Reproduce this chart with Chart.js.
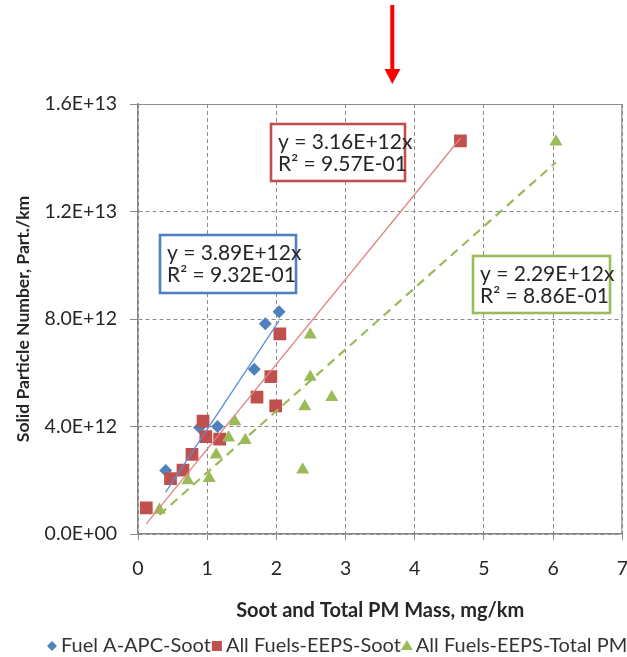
<!DOCTYPE html>
<html>
<head>
<meta charset="utf-8">
<script src="https://cdn.jsdelivr.net/npm/chart.js@4.4.0/dist/chart.umd.min.js"></script>
<style>
html,body{margin:0;padding:0;background:#fff;overflow:hidden}
#wrap{width:627px;height:657px;overflow:hidden;position:relative;background:#fff}
canvas{display:block}
</style>
</head>
<body>
<div id="wrap"><canvas id="c" width="645" height="657"></canvas></div>
<script>
// ---- data ----
const seriesNames = ['Fuel A-APC-Soot', 'All Fuels-EEPS-Soot', 'All Fuels-EEPS-Total PM'];

const blueX = [0.40, 0.89, 1.15, 1.68, 1.84, 2.04];
const blueY = [2.36e12, 3.96e12, 4.00e12, 6.13e12, 7.82e12, 8.27e12];

const redX = [0.12, 0.47, 0.65, 0.78, 0.94, 0.98, 1.18, 1.72, 1.92, 1.99, 2.05, 4.66];
const redY = [0.97e12, 2.06e12, 2.38e12, 2.96e12, 4.20e12, 3.62e12, 3.53e12, 5.09e12, 5.86e12, 4.77e12, 7.45e12, 14.63e12];

const greenX = [0.31, 0.72, 1.03, 1.13, 1.31, 1.40, 1.55, 2.38, 2.41, 2.49, 2.49, 2.80, 6.04];
const greenY = [0.89e12, 1.99e12, 2.07e12, 2.95e12, 3.58e12, 4.19e12, 3.49e12, 2.39e12, 4.74e12, 5.84e12, 7.41e12, 5.09e12, 14.60e12];

// linear trendlines through the origin, slopes as printed in the boxes
const trendSlopes = [3.89e12, 3.16e12, 2.29e12];
const trendTexts = [
  ['y = 3.89E+12x', 'R\u00B2 = 9.32E-01'],
  ['y = 3.16E+12x', 'R\u00B2 = 9.57E-01'],
  ['y = 2.29E+12x', 'R\u00B2 = 8.86E-01']
];

const xTicks = [0, 1, 2, 3, 4, 5, 6, 7];
const yTicks = [0, 4e12, 8e12, 1.2e13, 1.6e13];

const xTitle = 'Soot and Total PM Mass, mg/km';
const yTitle = 'Solid Particle Number, Part./km';

// ---- styling ----
const COLORS = ['#4f81bd', '#c0504d', '#9bbb59'];
const TREND_COLORS = ['#5b8ed0', '#e08482', '#9bbb59'];
const FONT = 'Lato, "Open Sans", sans-serif';
const TEXT = '#262626';
const GRID = '#8c8c8c';

function pts(xs, ys) { return xs.map((x, i) => ({x: x, y: ys[i]})); }
function trend(xs, slope) {
  const lo = Math.min(...xs), hi = Math.max(...xs);
  return [{x: lo, y: slope * lo}, {x: hi, y: slope * hi}];
}
function sci(v) {
  if (v === 0) return '0.0E+00';
  const e = Math.floor(Math.log10(v) + 1e-9);
  const m = v / Math.pow(10, e);
  return m.toFixed(1) + 'E+' + String(e).padStart(2, '0');
}

const allX = [blueX, redX, greenX];

const deco = {
  id: 'deco',
  beforeDatasetsDraw(chart) {
    const {ctx, chartArea: a} = chart;
    ctx.save();
    ctx.strokeStyle = GRID;
    ctx.lineWidth = 1.2;
    ctx.beginPath();
    ctx.moveTo(a.left, a.top + 0.5);
    ctx.lineTo(a.right - 0.5, a.top + 0.5);
    ctx.lineTo(a.right - 0.5, a.bottom);
    ctx.stroke();
    ctx.restore();
  },
  afterDraw(chart) {
    const ctx = chart.ctx;
    ctx.save();
    // equation boxes
    const boxes = [
      {x: 160, y: 235, w: 136, h: 58},
      {x: 271, y: 124, w: 134, h: 57},
      {x: 473, y: 256, w: 137, h: 57}
    ];
    ctx.font = '21px ' + FONT;
    ctx.textBaseline = 'middle';
    ctx.textAlign = 'left';
    boxes.forEach((b, i) => {
      ctx.fillStyle = '#fff';
      ctx.fillRect(b.x, b.y, b.w, b.h);
      ctx.lineWidth = 2.6;
      ctx.strokeStyle = COLORS[i];
      ctx.strokeRect(b.x, b.y, b.w, b.h);
      ctx.fillStyle = TEXT;
      ctx.fillText(trendTexts[i][0], b.x + 7, b.y + 18);
      ctx.fillText(trendTexts[i][1], b.x + 7, b.y + 40);
    });
    // legend
    ctx.font = '20px ' + FONT;
    let lx = 47;
    const ly = 646;
    seriesNames.forEach((name, i) => {
      ctx.fillStyle = COLORS[i];
      ctx.beginPath();
      const cx = lx + 5;
      if (i === 0) {
        ctx.moveTo(cx - 5, ly); ctx.lineTo(cx, ly - 5); ctx.lineTo(cx + 5, ly); ctx.lineTo(cx, ly + 5);
      } else if (i === 1) {
        ctx.rect(cx - 5, ly - 5, 10, 10);
      } else {
        ctx.moveTo(cx, ly - 6); ctx.lineTo(cx + 6, ly + 4); ctx.lineTo(cx - 6, ly + 4);
      }
      ctx.closePath();
      ctx.fill();
      ctx.fillStyle = '#333';
      ctx.fillText(name, lx + 14, ly);
      lx += 14 + ctx.measureText(name).width + 1;
    });
    // red arrow annotation at the top
    ctx.fillStyle = '#ff0000';
    ctx.fillRect(390.3, 5, 4, 66);
    ctx.beginPath();
    ctx.moveTo(384.5, 69); ctx.lineTo(400.5, 69); ctx.lineTo(392.3, 84);
    ctx.closePath();
    ctx.fill();
    ctx.restore();
  }
};

const tickFont = {family: FONT, size: 19.5};
const xTitleFont = {family: FONT, size: 20, weight: 'bold'};
const yTitleFont = {family: FONT, size: 17.5, weight: 'bold'};

new Chart(document.getElementById('c'), {
  type: 'scatter',
  data: {
    datasets: [
      {label: seriesNames[0], data: pts(blueX, blueY), pointStyle: 'rectRot', pointRadius: 6.5,
       backgroundColor: COLORS[0], borderColor: COLORS[0], borderWidth: 0, order: 6},
      {label: seriesNames[1], data: pts(redX, redY), pointStyle: 'rect', pointRadius: 9,
       backgroundColor: COLORS[1], borderColor: COLORS[1], borderWidth: 0, order: 5},
      {label: seriesNames[2], data: pts(greenX, greenY), pointStyle: 'triangle', pointRadius: 7.5,
       backgroundColor: COLORS[2], borderColor: COLORS[2], borderWidth: 0, order: 4},
      {label: 'trend0', data: trend(allX[0], trendSlopes[0]), showLine: true, pointRadius: 0,
       borderColor: TREND_COLORS[0], borderWidth: 1.3, order: 3},
      {label: 'trend1', data: trend(allX[1], trendSlopes[1]), showLine: true, pointRadius: 0,
       borderColor: TREND_COLORS[1], borderWidth: 1.3, order: 2},
      {label: 'trend2', data: trend(allX[2], trendSlopes[2]), showLine: true, pointRadius: 0,
       borderColor: TREND_COLORS[2], borderWidth: 2.2, borderDash: [9, 6], order: 1}
    ]
  },
  options: {
    responsive: false,
    animation: false,
    events: [],
    layout: {padding: {left: 0, right: 20, top: 104, bottom: 32}},
    plugins: {legend: {display: false}, tooltip: {enabled: false}},
    scales: {
      x: {
        type: 'linear', min: 0, max: 7,
        afterBuildTicks(s) { s.ticks = xTicks.map(v => ({value: v})); },
        afterFit(s) { s.height = 91; },
        ticks: {font: tickFont, color: TEXT, padding: 17, maxRotation: 0},
        grid: {color: GRID, lineWidth: 1, tickLength: 6, tickColor: GRID},
        border: {color: '#868686', width: 1.5, dash: [4, 3]},
        title: {display: true, text: xTitle, font: xTitleFont, color: TEXT, padding: {top: 0, bottom: 2}}
      },
      y: {
        type: 'linear', min: 0, max: 1.6e13,
        afterBuildTicks(s) { s.ticks = yTicks.map(v => ({value: v})); },
        afterFit(s) { s.width = 138; },
        ticks: {font: tickFont, color: TEXT, padding: 13, callback: v => sci(v)},
        grid: {color: GRID, lineWidth: 1, tickLength: 8, tickColor: GRID},
        border: {color: '#868686', width: 1.5, dash: [4, 3]},
        title: {display: true, text: yTitle, font: yTitleFont, color: TEXT, padding: {top: 13, bottom: 0}}
      }
    }
  },
  plugins: [deco]
});
</script>
</body>
</html>
